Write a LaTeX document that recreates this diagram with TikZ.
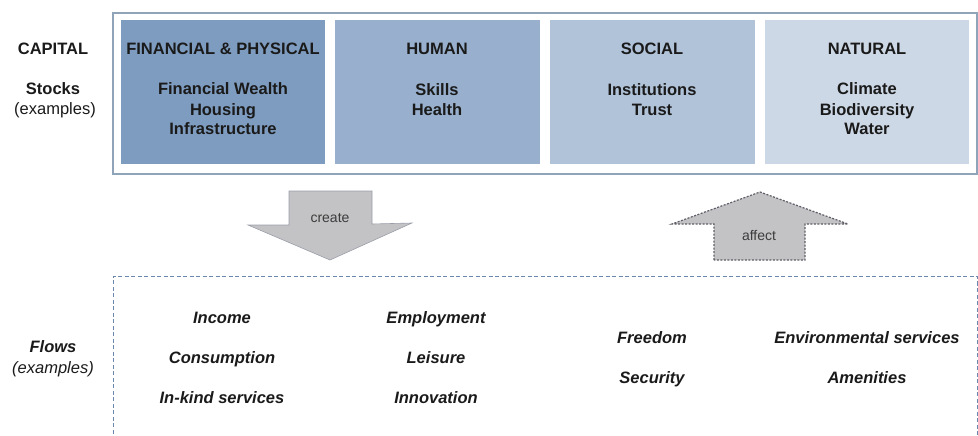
\documentclass[tikz,border=0pt]{standalone}
\usepackage{fontspec}
\setmainfont{Liberation Sans}
\definecolor{txt}{HTML}{1A1A1A}
\definecolor{frame}{HTML}{8FA3B9}
\definecolor{cap1}{HTML}{7E9CC0}
\definecolor{cap2}{HTML}{98B0CD}
\definecolor{cap3}{HTML}{B1C3D9}
\definecolor{cap4}{HTML}{CDD8E6}
\definecolor{dashblue}{HTML}{6A88AD}
\definecolor{arrgray}{HTML}{C3C3C5}
\definecolor{arredge}{HTML}{9A9EA8}
\definecolor{affedge}{HTML}{5E5E68}
\begin{document}
\begin{tikzpicture}[x=1pt,y=-1pt,
  lbl/.style={font=\fontsize{16.5}{20}\selectfont\bfseries, text=txt, inner sep=0pt, anchor=base, align=center},
  sub/.style={font=\fontsize{16.5}{20}\selectfont, text=txt, inner sep=0pt, anchor=base, align=center},
  flowtxt/.style={font=\fontsize{16.5}{20}\selectfont\bfseries\itshape, text=txt, inner sep=0pt, anchor=base},
  capbox/.style={draw=none, inner sep=0pt, minimum width=204pt, minimum height=144pt, anchor=north west},
  arrowlbl/.style={font=\fontsize{14}{16}\selectfont, text=txt!85, inner sep=0pt, anchor=base}]
\useasboundingbox (0,0) rectangle (978,436);
% outer frame
\node[draw=frame, line width=1.6pt, inner sep=0pt, minimum width=864pt, minimum height=161pt, anchor=north west] (frame) at (112,12) {};
% capital boxes
\node[capbox, fill=cap1] (fin) at (121,20) {};
\node[capbox, fill=cap2, minimum width=205pt] (hum) at (335,20) {};
\node[capbox, fill=cap3, minimum width=205pt] (soc) at (550,20) {};
\node[capbox, fill=cap4] (nat) at (765,20) {};
% left labels
\node[lbl] (capital) at (53,55) {CAPITAL};
\node[lbl] (stocks) at (53,95) {Stocks};
\node[sub] (ex1) at (55,114) {(examples)};
% headers
\node[lbl] (finh) at (223,55) {FINANCIAL \& PHYSICAL};
\node[lbl] (humh) at (437,55) {HUMAN};
\node[lbl] (soch) at (652,55) {SOCIAL};
\node[lbl] (nath) at (867,55) {NATURAL};
% contents (base anchor = baseline of last line)
\node[lbl] (fint) at (223,135) {Financial Wealth\\Housing\\Infrastructure};
\node[lbl] (humt) at (437,115) {Skills\\Health};
\node[lbl] (soct) at (652,115) {Institutions\\Trust};
\node[lbl] (natt) at (867,135) {Climate\\Biodiversity\\Water};
% create arrow
\draw[fill=arrgray, draw=arredge, line width=0.6pt, line join=miter]
  (289,191) -- (372,191) -- (372,224) -- (412,223) -- (330,260) -- (248,225) -- (289,225) -- cycle;
\node[arrowlbl] (create) at (330,222) {create};
% affect arrow
\draw[fill=arrgray, draw=affedge, line width=1.2pt, dash pattern=on 2pt off 1.5pt]
  (714,260) -- (714,224) -- (672,224) -- (760,192) -- (848,224) -- (805,224) -- (805,260) -- cycle;
\node[arrowlbl] (affect) at (759,240) {affect};
% flows box (open at bottom)
\draw[draw=dashblue, line width=0.8pt, dash pattern=on 4pt off 2.5pt]
  (113,440) -- (113,276) -- (977,276) -- (977,440);
\node[flowtxt] (flows) at (53,352) {Flows};
\node[font=\fontsize{16.5}{20}\selectfont\itshape, text=txt, inner sep=0pt, anchor=base] (ex2) at (53,373) {(examples)};
\node[flowtxt] (income) at (222,323) {Income};
\node[flowtxt] (cons) at (222,363) {Consumption};
\node[flowtxt] (inkind) at (222,403) {In-kind services};
\node[flowtxt] (emp) at (436,323) {Employment};
\node[flowtxt] (leis) at (436,363) {Leisure};
\node[flowtxt] (innov) at (436,403) {Innovation};
\node[flowtxt] (free) at (652,343) {Freedom};
\node[flowtxt] (sec) at (652,383) {Security};
\node[flowtxt] (env) at (867,343) {Environmental services};
\node[flowtxt] (amen) at (867,383) {Amenities};
\end{tikzpicture}
\end{document}
